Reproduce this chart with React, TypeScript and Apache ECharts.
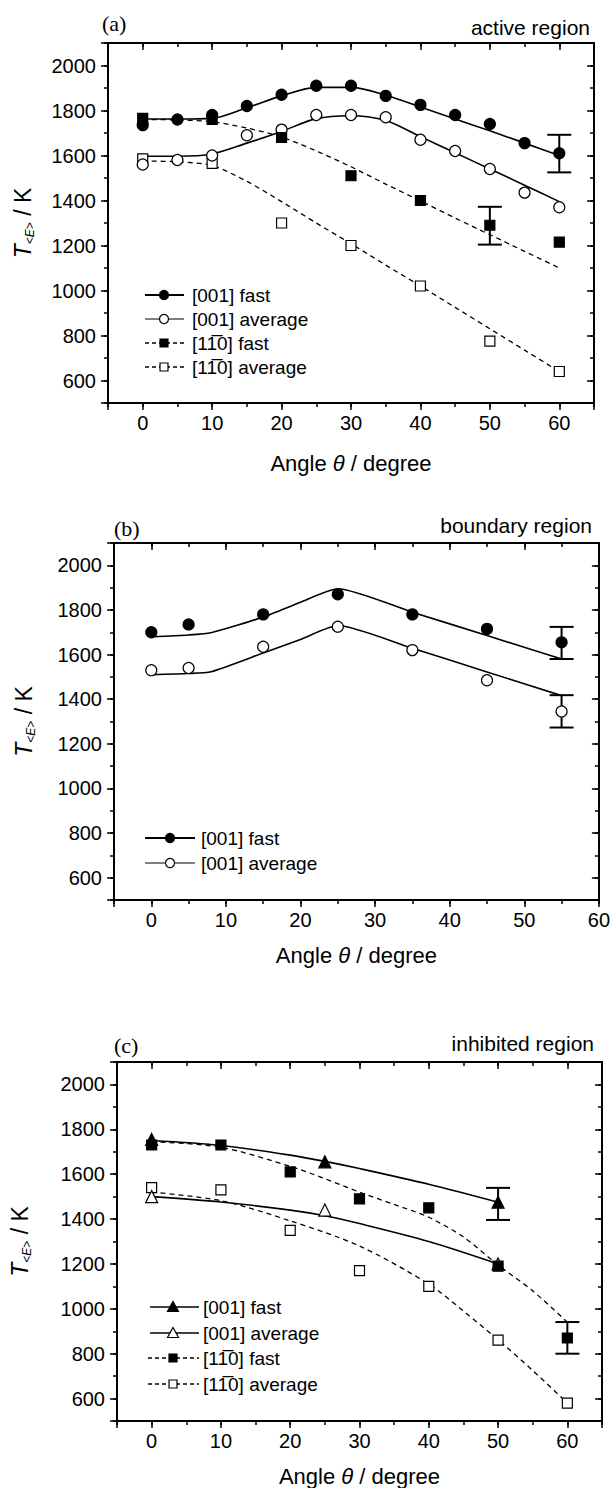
import React, { useEffect, useRef } from "react";
import * as echarts from "echarts";

const SANS = '"Liberation Sans", Arial, Helvetica, sans-serif';
const SERIF = '"Liberation Serif", "Times New Roman", serif';

// ---------- shared ticks ----------
const xTickLabels = [0, 10, 20, 30, 40, 50, 60];
const yTickLabels = [600, 800, 1000, 1200, 1400, 1600, 1800, 2000];

// ---------- panel (a) active region ----------
const aAngles001 = [0, 5, 10, 15, 20, 25, 30, 35, 40, 45, 50, 55, 60];
const aFast001 = [1735, 1760, 1780, 1820, 1870, 1910, 1910, 1865, 1825, 1780, 1740, 1655, 1610];
const aAvg001 = [1560, 1580, 1600, 1690, 1715, 1780, 1780, 1770, 1670, 1620, 1540, 1435, 1370];
const aAngles110 = [0, 10, 20, 30, 40, 50, 60];
const aFast110 = [1765, 1760, 1680, 1510, 1400, 1290, 1215];
const aAvg110 = [1585, 1565, 1300, 1200, 1020, 775, 640];
const aFitAngles = [0, 5, 10, 15, 20, 25, 30, 35, 40, 45, 50, 55, 60];
const aFitFast001 = [1762, 1762, 1765, 1812, 1865, 1903, 1903, 1868, 1816, 1762, 1710, 1655, 1600];
const aFitAvg001 = [1597, 1597, 1607, 1655, 1707, 1764, 1777, 1756, 1684, 1612, 1540, 1468, 1395];
const aFitFast110 = [1760, 1758, 1750, 1722, 1682, 1620, 1550, 1473, 1398, 1322, 1248, 1174, 1100];
const aFitAvg110 = [1575, 1572, 1555, 1485, 1395, 1300, 1208, 1113, 1020, 925, 830, 735, 640];
const aErrAngles = [60, 50];
const aErrLow = [1525, 1204];
const aErrHigh = [1692, 1372];

// ---------- panel (b) boundary region ----------
const bAngles = [0, 5, 15, 25, 35, 45, 55];
const bFast001 = [1700, 1735, 1780, 1870, 1780, 1715, 1655];
const bAvg001 = [1530, 1540, 1635, 1725, 1620, 1485, 1345];
const bFitAngles = [0, 5, 8, 15, 20, 25, 35, 45, 55];
const bFitFast001 = [1680, 1688, 1698, 1768, 1835, 1895, 1790, 1685, 1580];
const bFitAvg001 = [1510, 1515, 1523, 1607, 1668, 1730, 1628, 1522, 1416];
const bErrAngles = [55, 55];
const bErrLow = [1580, 1273];
const bErrHigh = [1724, 1418];

// ---------- panel (c) inhibited region ----------
const cAngles001 = [0, 25, 50];
const cFast001 = [1755, 1655, 1475];
const cAvg001 = [1500, 1440, 1200];
const cAngles110 = [0, 10, 20, 30, 40, 50, 60];
const cFast110 = [1730, 1730, 1610, 1490, 1450, 1190, 870];
const cAvg110 = [1540, 1530, 1350, 1170, 1100, 860, 580];
const cFitAngles001 = [0, 10, 20, 25, 30, 40, 50];
const cFitFast001 = [1750, 1728, 1685, 1657, 1625, 1555, 1475];
const cFitAvg001 = [1500, 1476, 1440, 1415, 1380, 1300, 1200];
const cFitAnglesF110 = [0, 10, 20, 25, 30, 35, 40, 45, 50, 55, 60];
const cFitFast110 = [1745, 1720, 1635, 1580, 1520, 1465, 1408, 1320, 1195, 1080, 940];
const cFitAnglesA110 = [0, 10, 20, 30, 40, 45, 50, 55, 60];
const cFitAvg110 = [1520, 1482, 1392, 1280, 1110, 990, 862, 725, 580];
const cErrAngles = [50, 60];
const cErrLow = [1396, 800];
const cErrHigh = [1539, 941];

const L001F = "[001] fast";
const L001A = "[001] average";
const L110F = "[11\u03050] fast";
const L110A = "[11\u03050] average";

const zip = (xs: number[], ys: number[]) => xs.map((x, i) => [x, ys[i]]);

function buildOption() {
  const grids = [
    { left: 108, top: 43, width: 486, height: 360 },
    { left: 114, top: 543, width: 486, height: 357 },
    { left: 117, top: 1062, width: 485, height: 359 },
  ];
  const xRanges = [
    [-5, 65],
    [-5, 60],
    [-5, 65],
  ];
  const xNameGaps = [49, 44, 44];
  const yNameGaps = [72, 77, 84];

  const xAxes: any[] = [];
  const yAxes: any[] = [];
  const tickLine = { color: "#000", width: 1.5 };
  const frameLine = { color: "#000", width: 2 };

  grids.forEach((_, g) => {
    const [xmin, xmax] = xRanges[g];
    const base = {
      type: "value",
      gridIndex: g,
      splitLine: { show: false },
      axisLabel: { show: false },
    };
    xAxes.push({
      ...base,
      min: xmin,
      max: xmax,
      splitNumber: 7,
      position: "bottom",
      axisLine: { show: true, onZero: false, lineStyle: frameLine },
      axisTick: { show: true, inside: false, length: 7, lineStyle: tickLine },
      axisLabel: {
        show: true,
        margin: 10,
        color: "#000",
        fontSize: 20,
        fontFamily: SANS,
        formatter: (v: number) => (xTickLabels.includes(v) ? String(v) : ""),
      },
      name: "{n|Angle }{i|\u03b8}{n| / degree}",
      nameLocation: "middle",
      nameGap: xNameGaps[g],
      nameTextStyle: {
        rich: {
          n: { fontSize: 22, fontFamily: SANS, color: "#000" },
          i: { fontSize: 22, fontFamily: SANS, fontStyle: "italic", color: "#000" },
        },
      },
    });
    xAxes.push({
      ...base,
      min: xmin,
      max: xmax,
      interval: 5,
      position: "bottom",
      axisLine: { show: false, onZero: false },
      axisTick: { show: true, inside: false, length: 4, lineStyle: tickLine },
    });
    xAxes.push({
      ...base,
      min: xmin,
      max: xmax,
      splitNumber: 7,
      position: "top",
      axisLine: { show: true, onZero: false, lineStyle: frameLine },
      axisTick: { show: true, inside: true, length: 7, lineStyle: tickLine },
    });
    xAxes.push({
      ...base,
      min: xmin,
      max: xmax,
      interval: 5,
      position: "top",
      axisLine: { show: false, onZero: false },
      axisTick: { show: true, inside: true, length: 4, lineStyle: tickLine },
    });

    yAxes.push({
      ...base,
      min: 500,
      max: 2100,
      splitNumber: 8,
      position: "left",
      axisLine: { show: true, onZero: false, lineStyle: frameLine },
      axisTick: { show: true, inside: false, length: 7, lineStyle: tickLine },
      axisLabel: {
        show: true,
        margin: 12,
        color: "#000",
        fontSize: 20,
        fontFamily: SANS,
        formatter: (v: number) => (yTickLabels.includes(v) ? String(v) : ""),
      },
      name: "{i|T}{s|<E>}{n| / K}",
      nameLocation: "middle",
      nameGap: yNameGaps[g],
      nameRotate: 90,
      nameTextStyle: {
        rich: {
          i: { fontSize: 23, fontFamily: SANS, fontStyle: "italic", color: "#000", lineHeight: 26 },
          s: {
            fontSize: 12,
            fontFamily: SANS,
            fontStyle: "italic",
            color: "#000",
            lineHeight: 14,
            verticalAlign: "bottom",
          },
          n: { fontSize: 23, fontFamily: SANS, color: "#000", lineHeight: 26 },
        },
      },
    });
    yAxes.push({
      ...base,
      min: 500,
      max: 2100,
      interval: 100,
      position: "left",
      axisLine: { show: false, onZero: false },
      axisTick: { show: true, inside: false, length: 4, lineStyle: tickLine },
    });
    yAxes.push({
      ...base,
      min: 500,
      max: 2100,
      splitNumber: 8,
      position: "right",
      axisLine: { show: true, onZero: false, lineStyle: frameLine },
      axisTick: { show: true, inside: true, length: 7, lineStyle: tickLine },
    });
    yAxes.push({
      ...base,
      min: 500,
      max: 2100,
      interval: 100,
      position: "right",
      axisLine: { show: false, onZero: false },
      axisTick: { show: true, inside: true, length: 4, lineStyle: tickLine },
    });
  });

  const series: any[] = [];
  const ax = (g: number) => ({ xAxisIndex: 4 * g, yAxisIndex: 4 * g });

  const fit = (g: number, xs: number[], ys: number[], dashed: boolean, smooth = 0.3) => {
    series.push({
      type: "line",
      ...ax(g),
      data: zip(xs, ys),
      showSymbol: false,
      symbol: "none",
      smooth,
      lineStyle: { color: "#000", width: dashed ? 1.3 : 1.6, type: dashed ? [5, 4] : "solid" },
      z: 2,
      silent: true,
    });
  };
  const pts = (g: number, xs: number[], ys: number[], symbol: string, filled: boolean, size: number) => {
    series.push({
      type: "scatter",
      ...ax(g),
      data: zip(xs, ys),
      symbol,
      symbolSize: size,
      itemStyle: {
        color: filled ? "#000" : "#fff",
        borderColor: "#000",
        borderWidth: 1.2,
        opacity: 1,
      },
      z: 4,
      silent: true,
    });
  };
  const err = (g: number, xs: number[], lo: number[], hi: number[]) => {
    series.push({
      type: "custom",
      ...ax(g),
      data: xs.map((x, i) => [x, lo[i], hi[i]]),
      encode: { x: 0, y: [1, 2] },
      z: 3,
      silent: true,
      renderItem: (params: any, api: any) => {
        const x = api.value(0);
        const top = api.coord([x, api.value(2)]);
        const bot = api.coord([x, api.value(1)]);
        const w = 12;
        const style = { stroke: "#000", lineWidth: 2 };
        return {
          type: "group",
          children: [
            { type: "line", shape: { x1: top[0], y1: top[1], x2: bot[0], y2: bot[1] }, style },
            { type: "line", shape: { x1: top[0] - w, y1: top[1], x2: top[0] + w, y2: top[1] }, style },
            { type: "line", shape: { x1: bot[0] - w, y1: bot[1], x2: bot[0] + w, y2: bot[1] }, style },
          ],
        };
      },
    });
  };

  // (a)
  fit(0, aFitAngles, aFitFast001, false);
  fit(0, aFitAngles, aFitAvg001, false);
  fit(0, aFitAngles, aFitFast110, true);
  fit(0, aFitAngles, aFitAvg110, true);
  err(0, aErrAngles, aErrLow, aErrHigh);
  pts(0, aAngles110, aAvg110, "rect", false, 10);
  pts(0, aAngles001, aAvg001, "circle", false, 11);
  pts(0, aAngles110, aFast110, "rect", true, 10);
  pts(0, aAngles001, aFast001, "circle", true, 11);

  // (b)
  fit(1, bFitAngles, bFitFast001, false, 0.2);
  fit(1, bFitAngles, bFitAvg001, false, 0.2);
  err(1, bErrAngles, bErrLow, bErrHigh);
  pts(1, bAngles, bAvg001, "circle", false, 11);
  pts(1, bAngles, bFast001, "circle", true, 11);

  // (c)
  fit(2, cFitAngles001, cFitFast001, false);
  fit(2, cFitAngles001, cFitAvg001, false);
  fit(2, cFitAnglesF110, cFitFast110, true);
  fit(2, cFitAnglesA110, cFitAvg110, true);
  err(2, cErrAngles, cErrLow, cErrHigh);
  pts(2, cAngles110, cAvg110, "rect", false, 10);
  pts(2, cAngles001, cAvg001, "triangle", false, 12);
  pts(2, cAngles110, cFast110, "rect", true, 10);
  pts(2, cAngles001, cFast001, "triangle", true, 12);

  // ---------- graphic: titles and legends ----------
  const graphics: any[] = [];
  const text = (x: number, y: number, t: string, size: number, family: string, align = "left") => {
    graphics.push({
      type: "text",
      x,
      y,
      style: { text: t, fontSize: size, fontFamily: family, fill: "#000", align, verticalAlign: "middle" },
    });
  };
  text(102, 23, "(a)", 22, SERIF);
  text(590, 27, "active region", 21, SANS, "right");
  text(114, 528, "(b)", 22, SERIF);
  text(592, 525, "boundary region", 21, SANS, "right");
  text(114, 1045, "(c)", 22, SERIF);
  text(594, 1043, "inhibited region", 21, SANS, "right");

  const marker = (kind: string, filled: boolean, cx: number, cy: number) => {
    const style = { fill: filled ? "#000" : "#fff", stroke: "#000", lineWidth: 1.2 };
    if (kind === "circle") graphics.push({ type: "circle", shape: { cx, cy, r: 4.5 }, style, z: 10 });
    else if (kind === "rect")
      graphics.push({ type: "rect", shape: { x: cx - 4, y: cy - 4, width: 8, height: 8 }, style, z: 10 });
    else
      graphics.push({
        type: "polygon",
        shape: { points: [[cx, cy - 5.5], [cx + 5.5, cy + 4.5], [cx - 5.5, cy + 4.5]] },
        style,
        z: 10,
      });
  };
  const legendRow = (
    x0: number, x1: number, mx: number, tx: number, y: number,
    dashed: boolean, kind: string, filled: boolean, label: string, lw = 1.6
  ) => {
    graphics.push({
      type: "line",
      shape: { x1: x0, y1: y, x2: x1, y2: y },
      style: { stroke: "#000", lineWidth: dashed ? 1.6 : lw, lineDash: dashed ? [4, 3] : null },
      z: 9,
    });
    marker(kind, filled, mx, y);
    text(tx, y, label, 19, SANS);
  };
  legendRow(145, 184, 164, 192, 295, false, "circle", true, L001F, 2);
  legendRow(145, 184, 164, 192, 319, false, "circle", false, L001A, 1.2);
  legendRow(145, 184, 164, 192, 343, true, "rect", true, L110F);
  legendRow(145, 184, 164, 192, 367, true, "rect", false, L110A);
  legendRow(145, 195, 170, 201, 838, false, "circle", true, L001F, 2);
  legendRow(145, 195, 170, 201, 863, false, "circle", false, L001A, 1.2);
  legendRow(150, 199, 173, 203, 1307, false, "triangle", true, L001F, 1.6);
  legendRow(150, 199, 173, 203, 1333, false, "triangle", false, L001A, 1.6);
  legendRow(148, 199, 173, 203, 1358, true, "rect", true, L110F);
  legendRow(148, 199, 173, 203, 1384, true, "rect", false, L110A);

  return {
    animation: false,
    backgroundColor: "#fff",
    textStyle: { fontFamily: SANS },
    grid: grids,
    xAxis: xAxes,
    yAxis: yAxes,
    series,
    graphic: graphics,
  };
}

export default function App() {
  const ref = useRef<HTMLDivElement>(null);
  useEffect(() => {
    document.body.style.margin = "0";
    if (!ref.current) return;
    const chart = echarts.init(ref.current, null, { renderer: "svg" });
    chart.setOption(buildOption() as any);
    return () => chart.dispose();
  }, []);
  return <div ref={ref} style={{ width: 613, height: 1488, background: "#fff" }} />;
}
